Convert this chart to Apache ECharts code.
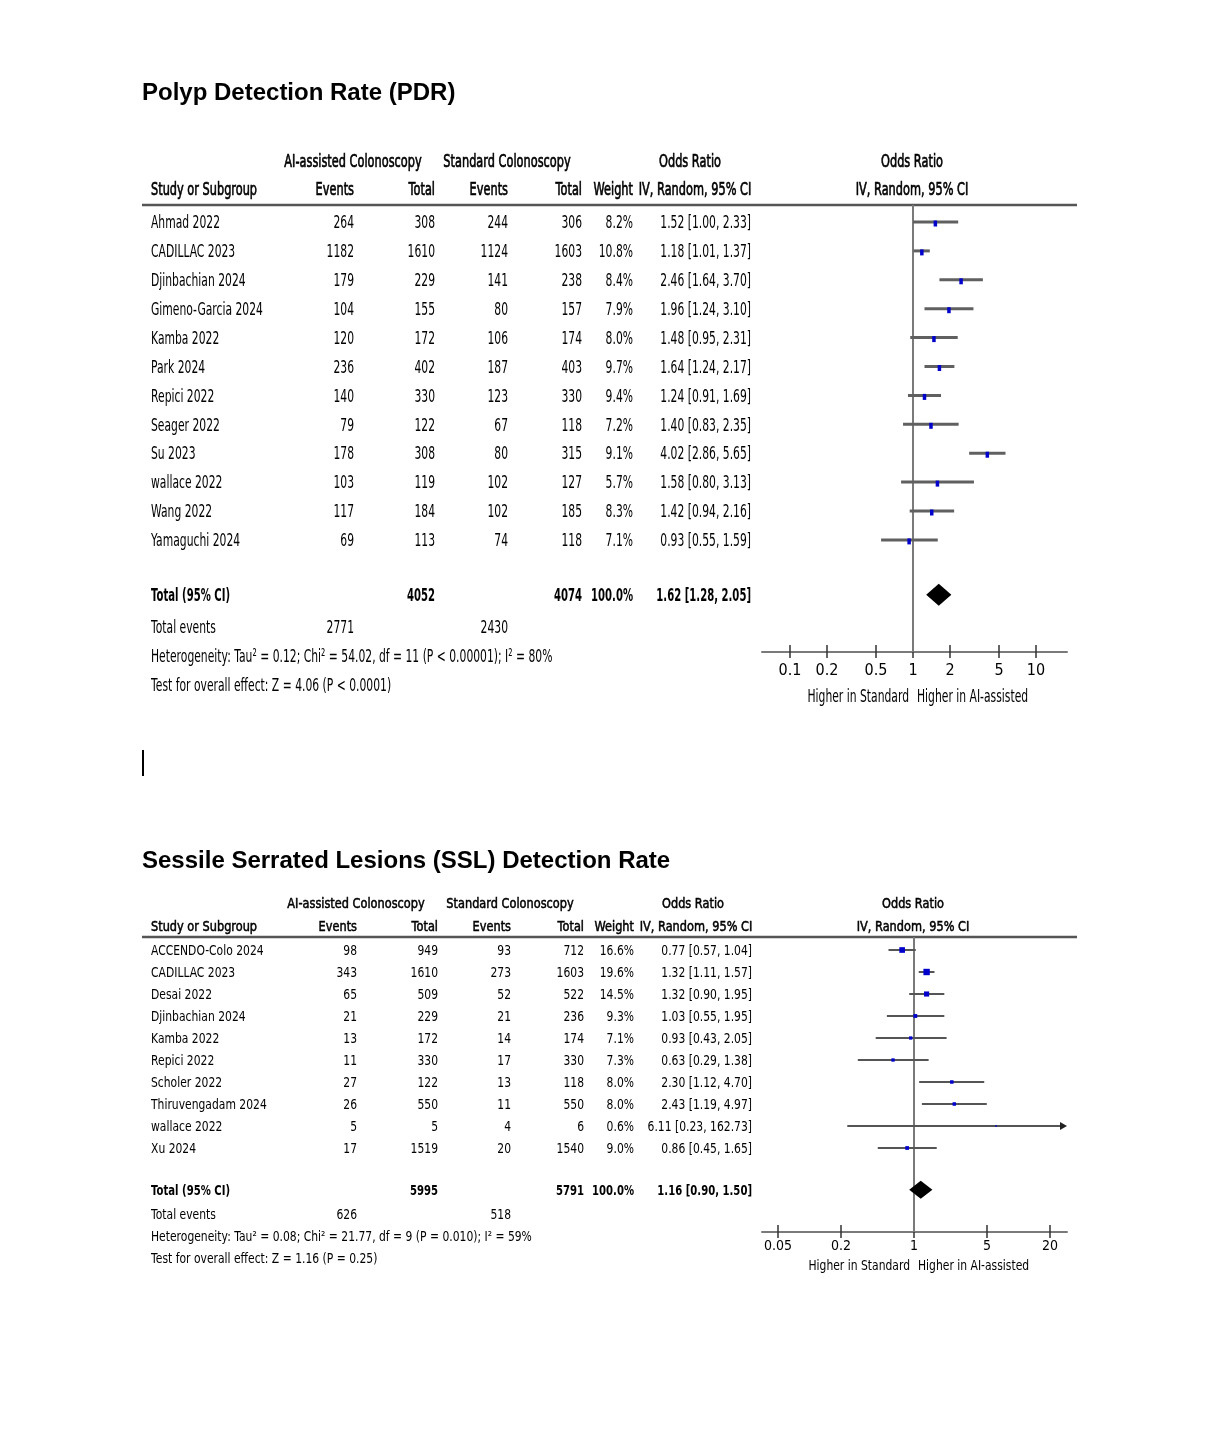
<!DOCTYPE html>
<html><head><meta charset="utf-8">
<script src="https://cdn.jsdelivr.net/npm/echarts@6/dist/echarts.min.js"></script>
<style>html,body{margin:0;padding:0;background:#fff}#c{width:1216px;height:1434px}</style>
</head><body><div id="c"></div>
<script>
// ---------------- DATA: Polyp Detection Rate ----------------
const pdrTitle = 'Polyp Detection Rate (PDR)';
const pdrStudies = ['Ahmad 2022','CADILLAC 2023','Djinbachian 2024','Gimeno-Garcia 2024','Kamba 2022','Park 2024','Repici 2022','Seager 2022','Su 2023','wallace 2022','Wang 2022','Yamaguchi 2024'];
const pdrAiEvents = [264,1182,179,104,120,236,140,79,178,103,117,69];
const pdrAiTotal = [308,1610,229,155,172,402,330,122,308,119,184,113];
const pdrStdEvents = [244,1124,141,80,106,187,123,67,80,102,102,74];
const pdrStdTotal = [306,1603,238,157,174,403,330,118,315,127,185,118];
const pdrWeight = [8.2,10.8,8.4,7.9,8.0,9.7,9.4,7.2,9.1,5.7,8.3,7.1];
const pdrOR = [1.52,1.18,2.46,1.96,1.48,1.64,1.24,1.40,4.02,1.58,1.42,0.93];
const pdrLo = [1.00,1.01,1.64,1.24,0.95,1.24,0.91,0.83,2.86,0.80,0.94,0.55];
const pdrHi = [2.33,1.37,3.70,3.10,2.31,2.17,1.69,2.35,5.65,3.13,2.16,1.59];
const pdrTotals = [4052,4074];
const pdrTotalEvents = [2771,2430];
const pdrPooled = [1.62,1.28,2.05];
const pdrHeterogeneity = 'Heterogeneity: Tau\u00b2 = 0.12; Chi\u00b2 = 54.02, df = 11 (P < 0.00001); I\u00b2 = 80%';
const pdrOverall = 'Test for overall effect: Z = 4.06 (P < 0.0001)';
const pdrTicks = [0.1,0.2,0.5,1,2,5,10];

// ---------------- DATA: SSL Detection Rate ----------------
const sslTitle = 'Sessile Serrated Lesions (SSL) Detection Rate';
const sslStudies = ['ACCENDO-Colo 2024','CADILLAC 2023','Desai 2022','Djinbachian 2024','Kamba 2022','Repici 2022','Scholer 2022','Thiruvengadam 2024','wallace 2022','Xu 2024'];
const sslAiEvents = [98,343,65,21,13,11,27,26,5,17];
const sslAiTotal = [949,1610,509,229,172,330,122,550,5,1519];
const sslStdEvents = [93,273,52,21,14,17,13,11,4,20];
const sslStdTotal = [712,1603,522,236,174,330,118,550,6,1540];
const sslWeight = [16.6,19.6,14.5,9.3,7.1,7.3,8.0,8.0,0.6,9.0];
const sslOR = [0.77,1.32,1.32,1.03,0.93,0.63,2.30,2.43,6.11,0.86];
const sslLo = [0.57,1.11,0.90,0.55,0.43,0.29,1.12,1.19,0.23,0.45];
const sslHi = [1.04,1.57,1.95,1.95,2.05,1.38,4.70,4.97,162.73,1.65];
const sslTotals = [5995,5791];
const sslTotalEvents = [626,518];
const sslPooled = [1.16,0.90,1.50];
const sslHeterogeneity = 'Heterogeneity: Tau\u00b2 = 0.08; Chi\u00b2 = 21.77, df = 9 (P = 0.010); I\u00b2 = 59%';
const sslOverall = 'Test for overall effect: Z = 1.16 (P = 0.25)';
const sslTicks = [0.05,0.2,1,5,20];

// common header texts
const groupHeaders = ['AI-assisted Colonoscopy','Standard Colonoscopy','Odds Ratio'];
const colHeaders = ['Study or Subgroup','Events','Total','Events','Total','Weight','IV, Random, 95% CI'];
const favourLabels = ['Higher in Standard','Higher in AI-assisted'];

// ---------------- LAYOUT ----------------
const plots = [
  { title: pdrTitle, studies: pdrStudies, aiE: pdrAiEvents, aiN: pdrAiTotal, stE: pdrStdEvents, stN: pdrStdTotal,
    w: pdrWeight, or: pdrOR, lo: pdrLo, hi: pdrHi, totals: pdrTotals, events: pdrTotalEvents, pooled: pdrPooled,
    het: pdrHeterogeneity, test: pdrOverall, ticks: pdrTicks,
    lay: { titleY: 93, h1: 161, h2: 189, ruleY: 205, y0: 222, dy: 28.9, axisY: 652, one: 913, ppd: 123,
      cols: [151, 354, 435, 508, 582, 633, 751], grpC: [353, 507, 690], orHdrC: 695, rightC: 912,
      sx: 0.77, sxb: 0.72, sxh: 0.81, sy: 1.31, tOff: 1.5, labelSize: 16, labelMargin: 11, favY: 696, diaH: 11,
      ciColor: '#606060', ciWidth: 3, mark: () => [3.5, 6], markOff: 1.5 } },
  { title: sslTitle, studies: sslStudies, aiE: sslAiEvents, aiN: sslAiTotal, stE: sslStdEvents, stN: sslStdTotal,
    w: sslWeight, or: sslOR, lo: sslLo, hi: sslHi, totals: sslTotals, events: sslTotalEvents, pooled: sslPooled,
    het: sslHeterogeneity, test: sslOverall, ticks: sslTicks,
    lay: { titleY: 861, h1: 903, h2: 926, ruleY: 937, y0: 950, dy: 22, axisY: 1232, one: 914, ppd: 104.5,
      cols: [151, 357, 438, 511, 584, 634, 752], grpC: [356, 510, 693], orHdrC: 696, rightC: 913,
      sx: 0.77, sxb: 0.72, sxh: 0.81, sy: 1.0, tOff: 1.5, labelSize: 14, labelMargin: 7, favY: 1265, diaH: 9,
      ciColor: '#555', ciWidth: 2, mark: (w) => [1.5 + 0.25 * w, 1.5 + 0.25 * w], markOff: 0 } }
];
const AX_LEFT = 762, AX_RIGHT = 1067, RULE_L = 142, RULE_R = 1077;
const FONT = "'DejaVu Sans', sans-serif";
const TXT = '#000';

// kind: undefined = normal, 'b' = bold row, 'h' = header (semi-bold look)
function T(x, y, text, align, lay, kind) {
  const sx = kind === 'h' ? lay.sxh : (kind === 'b' ? lay.sxb : lay.sx);
  const style = { text: text, x: 0, y: 0, textAlign: align, textVerticalAlign: 'middle', fill: TXT,
    font: (kind === 'b' ? 'bold ' : '') + '14px ' + FONT };
  if (kind === 'h') { style.stroke = TXT; style.lineWidth = 0.55; }
  return { type: 'text', x: x, y: y + lay.tOff, scaleX: sx, scaleY: lay.sy, silent: true, z: 10, style: style };
}
const f2 = v => v.toFixed(2);
const orText = (o, l, h) => f2(o) + ' [' + f2(l) + ', ' + f2(h) + ']';

const graphic = [];
const grids = [], xAxes = [], yAxes = [], series = [];

plots.forEach((p, g) => {
  const L = p.lay, c = L.cols;
  const rowY = r => L.y0 + r * L.dy;
  const n = p.studies.length;
  // title
  graphic.push({ type: 'text', x: 142, y: L.titleY, silent: true,
    style: { text: p.title, x: 0, y: 0, textAlign: 'left', textVerticalAlign: 'middle', fill: '#000',
      font: "bold 24px 'Liberation Sans', Arial, sans-serif" } });
  // headers
  graphic.push(T(L.grpC[0], L.h1, groupHeaders[0], 'center', L, 'h'));
  graphic.push(T(L.grpC[1], L.h1, groupHeaders[1], 'center', L, 'h'));
  graphic.push(T(L.grpC[2], L.h1, groupHeaders[2], 'center', L, 'h'));
  graphic.push(T(L.rightC, L.h1, groupHeaders[2], 'center', L, 'h'));
  graphic.push(T(c[0], L.h2, colHeaders[0], 'left', L, 'h'));
  for (let k = 1; k <= 5; k++) graphic.push(T(c[k], L.h2, colHeaders[k], 'right', L, 'h'));
  graphic.push(T(L.orHdrC, L.h2, colHeaders[6], 'center', L, 'h'));
  graphic.push(T(L.rightC, L.h2, colHeaders[6], 'center', L, 'h'));
  graphic.push({ type: 'line', silent: true, shape: { x1: RULE_L, y1: L.ruleY, x2: RULE_R, y2: L.ruleY },
    style: { stroke: '#555', lineWidth: 2.5 } });
  // study rows
  p.studies.forEach((s, i) => {
    const y = rowY(i);
    graphic.push(T(c[0], y, s, 'left', L));
    graphic.push(T(c[1], y, String(p.aiE[i]), 'right', L));
    graphic.push(T(c[2], y, String(p.aiN[i]), 'right', L));
    graphic.push(T(c[3], y, String(p.stE[i]), 'right', L));
    graphic.push(T(c[4], y, String(p.stN[i]), 'right', L));
    graphic.push(T(c[5], y, p.w[i].toFixed(1) + '%', 'right', L));
    graphic.push(T(c[6], y, orText(p.or[i], p.lo[i], p.hi[i]), 'right', L));
  });
  // total rows
  const tRow = n + 0.9;
  graphic.push(T(c[0], rowY(tRow), 'Total (95% CI)', 'left', L, 'b'));
  graphic.push(T(c[2], rowY(tRow), String(p.totals[0]), 'right', L, 'b'));
  graphic.push(T(c[4], rowY(tRow), String(p.totals[1]), 'right', L, 'b'));
  graphic.push(T(c[5], rowY(tRow), '100.0%', 'right', L, 'b'));
  graphic.push(T(c[6], rowY(tRow), orText(p.pooled[0], p.pooled[1], p.pooled[2]), 'right', L, 'b'));
  graphic.push(T(c[0], rowY(n + 2), 'Total events', 'left', L));
  graphic.push(T(c[1], rowY(n + 2), String(p.events[0]), 'right', L));
  graphic.push(T(c[3], rowY(n + 2), String(p.events[1]), 'right', L));
  graphic.push(T(c[0], rowY(n + 3), p.het, 'left', L));
  graphic.push(T(c[0], rowY(n + 4), p.test, 'left', L));
  // favour labels
  graphic.push(T(L.one - 4, L.favY, favourLabels[0], 'right', L));
  graphic.push(T(L.one + 4, L.favY, favourLabels[1], 'left', L));

  // ---- forest grid ----
  const xmin = (AX_LEFT - L.one) / L.ppd, xmax = (AX_RIGHT - L.one) / L.ppd;
  const ymin = (L.ruleY - L.y0) / L.dy, ymax = (L.axisY - L.y0) / L.dy;
  grids.push({ left: AX_LEFT, width: AX_RIGHT - AX_LEFT, top: L.ruleY, height: L.axisY - L.ruleY });
  const tickLog = p.ticks.map(Math.log10);
  const common = { type: 'value', gridIndex: g, position: 'bottom', min: xmin, max: xmax, splitLine: { show: false } };
  xAxes.push(Object.assign({}, common, {
    axisLine: { show: true, onZero: false, lineStyle: { color: '#7a7a7a', width: 2 } },
    axisTick: { show: true, customValues: tickLog, length: 6, lineStyle: { color: '#333', width: 1.5 } },
    axisLabel: { customValues: tickLog, margin: L.labelMargin, fontSize: L.labelSize, color: TXT,
      fontFamily: "'Liberation Sans Narrow','DejaVu Sans Condensed','Liberation Sans',sans-serif",
      formatter: v => String(parseFloat(Math.pow(10, v).toPrecision(3))) }
  }));
  xAxes.push(Object.assign({}, common, {
    axisLine: { show: false, onZero: false }, axisLabel: { show: false },
    axisTick: { show: true, inside: true, customValues: tickLog, length: 7, lineStyle: { color: '#333', width: 1.5 } }
  }));
  yAxes.push({ type: 'value', gridIndex: g, inverse: true, min: ymin, max: ymax, show: false });

  // line of no effect
  series.push({ type: 'line', xAxisIndex: 2 * g, yAxisIndex: g, silent: true, symbol: 'none',
    data: [[0, ymin], [0, ymax]], lineStyle: { color: '#7a7a7a', width: 2 }, z: 1 });

  // CI lines + markers
  series.push({ type: 'custom', xAxisIndex: 2 * g, yAxisIndex: g, silent: true, z: 3,
    data: p.studies.map((s, i) => [Math.log10(p.or[i]), i, Math.log10(p.lo[i]), Math.log10(p.hi[i]), p.w[i]]),
    renderItem: (params, api) => {
      const row = api.value(1);
      const pm = api.coord([api.value(0), row]);
      const p1 = api.coord([api.value(2), row]);
      const p2 = api.coord([api.value(3), row]);
      const right = params.coordSys.x + params.coordSys.width;
      const kids = [];
      let x2 = p2[0], arrow = false;
      if (x2 > right) { x2 = right - 6; arrow = true; }
      kids.push({ type: 'line', shape: { x1: p1[0], y1: p1[1], x2: x2, y2: p1[1] },
        style: { stroke: L.ciColor, lineWidth: L.ciWidth } });
      if (arrow) kids.push({ type: 'polygon', shape: { points: [[right - 7, p1[1] - 4], [right, p1[1]], [right - 7, p1[1] + 4]] },
        style: { fill: '#222' } });
      const m = L.mark(api.value(4));
      kids.push({ type: 'rect', shape: { x: pm[0] - m[0] / 2, y: pm[1] - m[1] / 2 + L.markOff, width: m[0], height: m[1] },
        style: { fill: '#0000cc' } });
      return { type: 'group', children: kids };
    } });

  // pooled diamond
  series.push({ type: 'custom', xAxisIndex: 2 * g, yAxisIndex: g, silent: true, z: 3,
    data: [[Math.log10(p.pooled[0]), tRow, Math.log10(p.pooled[1]), Math.log10(p.pooled[2])]],
    renderItem: (params, api) => {
      const cc = api.coord([api.value(0), api.value(1)]);
      const l = api.coord([api.value(2), api.value(1)]);
      const r = api.coord([api.value(3), api.value(1)]);
      return { type: 'polygon', shape: { points: [[l[0], cc[1]], [cc[0], cc[1] - L.diaH], [r[0], cc[1]], [cc[0], cc[1] + L.diaH]] },
        style: { fill: '#000' } };
    } });
});

// stray text cursor mark between the two panels
graphic.push({ type: 'line', silent: true, shape: { x1: 143, y1: 750, x2: 143, y2: 776 }, style: { stroke: '#000', lineWidth: 2 } });

const chart = echarts.init(document.getElementById('c'));
chart.setOption({
  animation: false,
  backgroundColor: '#fff',
  grid: grids, xAxis: xAxes, yAxis: yAxes, series: series, graphic: graphic
});
</script></body></html>
